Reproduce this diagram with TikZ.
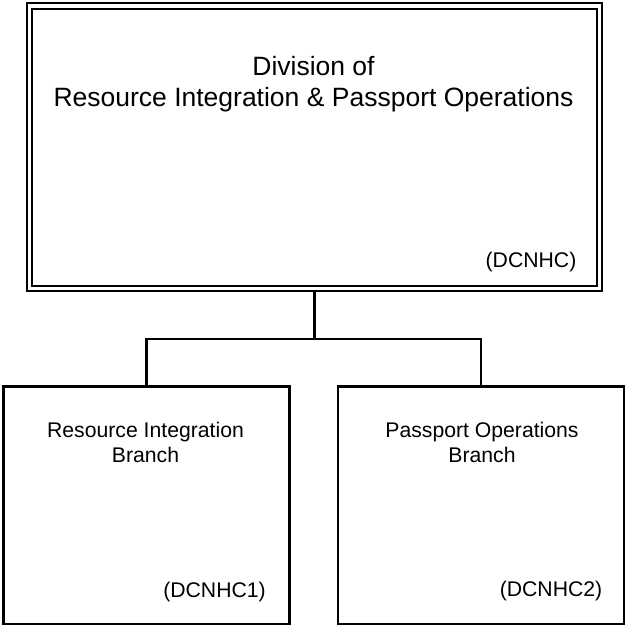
\documentclass[tikz,border=0pt]{standalone}
\usepackage{fontspec}
\setmainfont{Liberation Sans}
\tikzset{
  unitbox/.style={draw,line width=2.4pt,inner sep=0pt,outer sep=0pt,
    minimum width=286pt,minimum height=237.5pt},
  divbox/.style={unitbox,double,double distance=3.1pt,outer sep=3.95pt,
    minimum width=570pt,minimum height=282.5pt},
  bigtxt/.style={inner sep=0pt,align=center,font=\fontsize{26.5}{31}\selectfont},
  smalltxt/.style={inner sep=0pt,align=center,font=\fontsize{21.2}{25}\selectfont}
}
\begin{document}
\begin{tikzpicture}[x=1pt,y=-1pt]
\useasboundingbox (0,0) rectangle (625,628);

% boxes
\node[divbox] (div) at (314.5,147.25) {};
\node[unitbox] (ri) at (146.6,505.25) {};
\node[unitbox] (po) at (480.8,505.25) {};

% connectors
\coordinate (bus) at (314.5,338.7);
\draw[line width=2.4pt] (div.south) -- (bus);
\draw[line width=2.4pt] (ri.north) |- (bus) -| (po.north);

% texts
\node[bigtxt,anchor=base] (divname) at (313.5,106.5) {Division of\\Resource Integration \& Passport Operations};
\node[smalltxt,anchor=base] (divcode) at (531,267) {(DCNHC)};
\node[smalltxt,anchor=base] (riname) at (145.5,462) {Resource Integration\\Branch};
\node[smalltxt,anchor=base] (ricode) at (214.5,597) {(DCNHC1)};
\node[smalltxt,anchor=base] (poname) at (482,462) {Passport Operations\\Branch};
\node[smalltxt,anchor=base] (pocode) at (551,596) {(DCNHC2)};
\end{tikzpicture}
\end{document}
